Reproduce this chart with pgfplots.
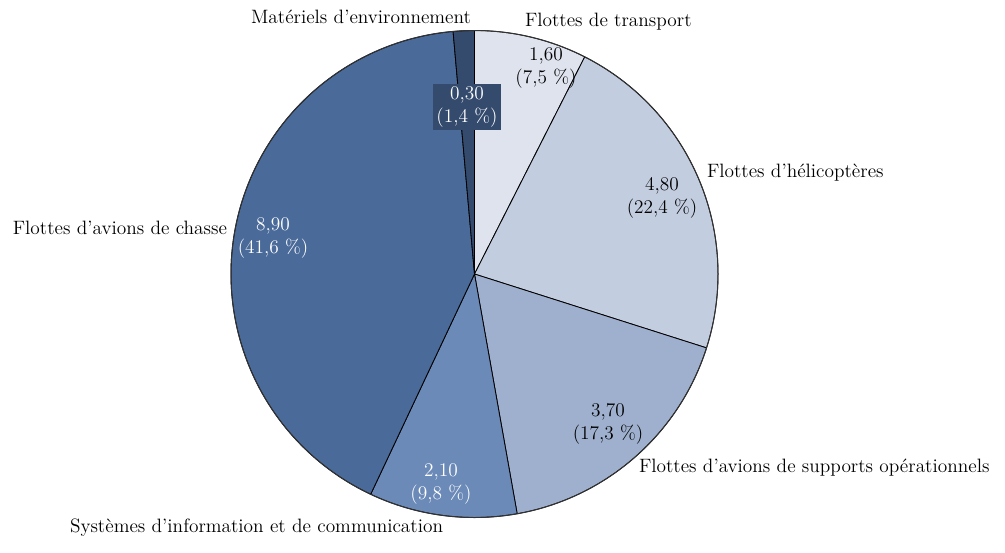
\documentclass[border=0pt]{standalone}
\usepackage{pgfplots}
\usepackage{pgfplotstable}
\pgfplotsset{compat=1.18}

\definecolor{cTransport}{HTML}{DEE3EE}
\definecolor{cHelico}{HTML}{C3CDE0}
\definecolor{cSupport}{HTML}{9EB0CD}
\definecolor{cSIC}{HTML}{6B8AB8}
\definecolor{cChasse}{HTML}{4A6A99}
\definecolor{cEnv}{HTML}{344B6E}

% sectors, clockwise from 12 o'clock
\pgfplotstableread{
value colour
1.60  cTransport
4.80  cHelico
3.70  cSupport
2.10  cSIC
8.90  cChasse
0.30  cEnv
}\piedata

\begin{document}
\begin{tikzpicture}[lab/.style={font=\fontsize{11.6}{13.4}\selectfont, inner sep=1pt, align=center}]
% cumulative angles
\pgfplotstablegetrowsof{\piedata}
\pgfmathtruncatemacro{\nrows}{\pgfplotsretval-1}
\def\total{21.4}
\gdef\cum{0}
\foreach \k in {0,...,\nrows}{
  \pgfplotstablegetelem{\k}{value}\of{\piedata}
  \pgfmathsetmacro{\a}{90-360*\cum/\total}
  \pgfmathsetmacro{\b}{90-360*(\cum+\pgfplotsretval)/\total}
  \pgfmathsetmacro{\c}{\cum+\pgfplotsretval}
  \expandafter\xdef\csname pa\k\endcsname{\a}
  \expandafter\xdef\csname pb\k\endcsname{\b}
  \xdef\cum{\c}
  \pgfplotstablegetelem{\k}{colour}\of{\piedata}
  \expandafter\xdef\csname pc\k\endcsname{\pgfplotsretval}
}
\begin{axis}[
    x=0.6pt, y=0.6pt,
    xmin=0, xmax=1005, ymin=0, ymax=552,
    hide axis, clip=false,
]
\path (axis cs:0,0) rectangle (axis cs:1005,552);
\def\R{146.1pt}
\pgfplotsinvokeforeach{0,...,5}{
  \filldraw[fill=\csname pc#1\endcsname, draw=black, line width=0.5pt, line join=round]
    (axis cs:474.5,278) -- ++(\csname pa#1\endcsname:\R)
    arc[start angle=\csname pa#1\endcsname, end angle=\csname pb#1\endcsname, radius=\R] -- cycle;
}
\draw[black!80, line width=0.6pt] (axis cs:474.5,278) circle[radius=\R];

% values
\node[lab] at (axis cs:546,484) {1,60\\(7,5~\%)};
\node[lab, fill=cEnv, text=white, inner sep=2pt] at (axis cs:467,445) {0,30\\(1,4~\%)};
\node[lab] at (axis cs:662,354) {4,80\\(22,4~\%)};
\node[lab, text=white] at (axis cs:273,314) {8,90\\(41,6~\%)};
\node[lab] at (axis cs:608,128) {3,70\\(17,3~\%)};
\node[lab, text=white] at (axis cs:441,68) {2,10\\(9,8~\%)};

% category names
\node[lab, anchor=east] at (axis cs:473,535) {Matériels d’environnement};
\node[lab, anchor=west] at (axis cs:523,530) {Flottes de transport};
\node[lab, anchor=west] at (axis cs:705,379) {Flottes d’hélicoptères};
\node[lab, anchor=east] at (axis cs:229,324) {Flottes d’avions de chasse};
\node[lab, anchor=west] at (axis cs:637,84) {Flottes d’avions de supports opérationnels};
\node[lab, anchor=west] at (axis cs:68,24) {Systèmes d’information et de communication};
\end{axis}
\end{tikzpicture}
\end{document}
